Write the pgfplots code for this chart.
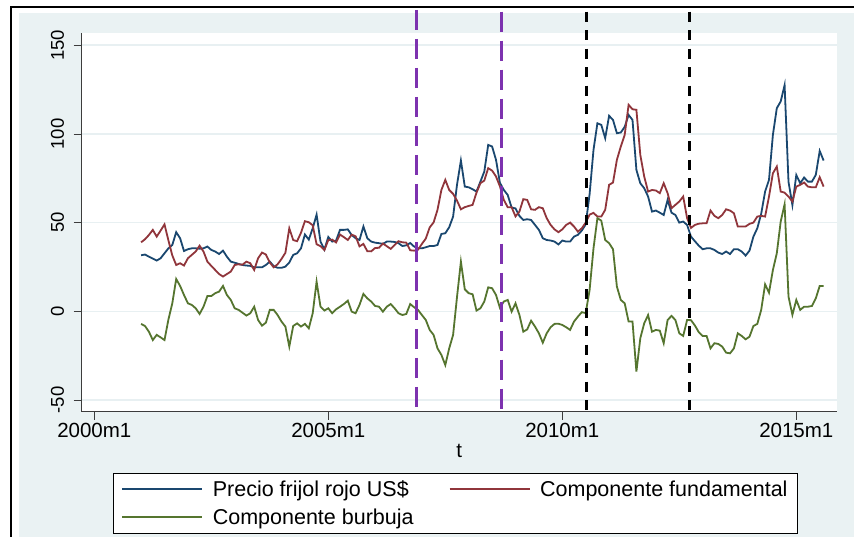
\documentclass[border=0pt]{standalone}
\usepackage{pgfplots}
\pgfplotsset{compat=1.18}
\usepackage{pgfplotstable}
\usepackage{fontspec}
\setmainfont{Liberation Sans}

\definecolor{stnavy}{RGB}{26,71,111}
\definecolor{stmaroon}{RGB}{144,53,59}
\definecolor{stgreen}{RGB}{85,117,47}
\definecolor{stbg}{RGB}{234,242,243}
\definecolor{stgrid}{RGB}{232,240,242}
\definecolor{stpurple}{RGB}{125,50,175}
\definecolor{staxis}{RGB}{60,60,60}

% month index (0 = 2000m1), price, fundamental component, bubble component
\pgfplotstableread{
m p f b
12 31.6 38.9 -7.1
13 32.0 40.6 -8.3
14 30.8 43.0 -11.5
15 29.7 45.9 -16.2
16 28.6 42.1 -13.3
17 29.9 45.5 -14.7
18 32.7 49.0 -16.2
19 35.5 40.0 -4.7
20 37.4 31.5 4.5
21 44.6 26.1 18.2
22 41.2 27.1 14.3
23 34.0 25.8 9.2
24 35.0 29.9 4.5
25 35.5 31.8 3.6
26 35.5 33.7 1.7
27 35.3 37.0 -1.5
28 35.5 33.7 2.6
29 36.5 28.0 8.6
30 34.6 25.6 8.6
31 33.7 23.3 10.2
32 32.3 21.0 11.1
33 34.2 19.6 14.3
34 30.8 21.0 9.2
35 28.0 22.4 6.4
36 27.4 26.1 1.7
37 26.7 26.5 0.8
38 26.1 26.3 -0.8
39 25.8 28.0 -2.4
40 25.6 27.1 -1.1
41 24.8 23.3 2.6
42 24.8 29.9 -4.9
43 24.8 33.1 -8.1
44 26.1 32.0 -6.4
45 28.0 27.5 0.8
46 25.5 24.8 0.8
47 24.5 26.5 -2.1
48 24.5 29.5 -5.8
49 25.2 33.0 -8.6
50 27.5 46.8 -19.9
51 31.8 40.2 -8.3
52 32.7 39.5 -6.8
53 35.5 44.3 -8.6
54 43.3 50.8 -7.1
55 40.4 50.2 -9.6
56 46.8 48.5 -1.1
57 54.5 37.8 16.7
58 39.3 36.7 2.6
59 34.8 34.5 0.4
60 41.9 40.2 1.7
61 39.3 40.4 -1.1
62 39.9 38.8 1.1
63 45.9 43.3 2.6
64 45.9 41.8 4.1
65 46.2 40.2 6.0
66 43.0 43.2 -0.2
67 41.2 42.3 -1.1
68 40.2 36.6 3.6
69 47.8 38.0 9.8
70 41.2 33.9 7.3
71 39.3 33.8 5.5
72 38.7 35.7 3.0
73 38.4 35.8 2.6
74 38.0 38.2 -0.2
75 39.3 36.7 2.6
76 39.3 35.2 4.1
77 39.1 37.4 1.7
78 38.4 39.5 -1.1
79 36.8 38.9 -2.1
80 37.2 38.7 -1.5
81 38.5 34.4 4.1
82 36.5 34.2 2.3
83 35.5 34.7 0.8
84 35.5 38.0 -2.1
85 36.1 41.0 -4.9
86 36.8 47.3 -10.5
87 36.8 50.1 -13.3
88 37.4 57.2 -20.9
89 43.6 68.4 -24.6
90 44.0 74.1 -30.3
91 47.4 68.4 -20.9
92 53.4 66.2 -13.3
93 71.3 62.4 8.0
94 85.0 57.5 28.0
95 70.3 58.7 12.4
96 69.9 59.4 10.2
97 68.8 60.0 9.6
98 67.5 66.9 0.4
99 73.1 72.2 1.7
100 78.8 73.7 5.5
101 93.8 80.7 13.5
102 92.9 79.3 13.0
103 85.4 76.0 9.2
104 72.5 70.5 2.0
105 68.4 62.8 5.5
106 65.6 58.7 6.4
107 58.5 58.7 -0.2
108 58.0 53.5 4.5
109 53.8 56.2 -2.0
110 51.5 63.2 -11.5
111 51.9 62.8 -10.2
112 51.5 57.5 -5.3
113 48.7 57.2 -8.6
114 45.9 58.7 -12.4
115 41.2 58.1 -17.7
116 40.2 52.5 -12.4
117 39.9 48.7 -9.0
118 39.3 46.2 -7.1
119 37.7 44.6 -7.0
120 39.9 46.2 -7.7
121 39.3 48.7 -9.0
122 39.3 50.0 -10.5
123 42.1 47.8 -5.8
124 43.1 44.9 -3.0
125 45.5 46.8 -0.5
126 49.0 50.0 -1.0
127 66.0 54.5 12.0
128 91.0 55.5 35.5
129 106.0 53.4 52.5
130 105.1 53.4 51.1
131 97.6 57.2 40.2
132 110.2 71.3 38.4
133 107.9 72.6 35.0
134 100.4 85.4 13.9
135 100.8 92.9 6.4
136 104.0 99.5 4.5
137 110.7 116.4 -5.8
138 107.9 113.9 -5.8
139 79.7 113.6 -34.0
140 72.2 88.2 -15.2
141 69.4 76.0 -6.8
142 64.7 67.5 -2.1
143 56.2 68.4 -11.5
144 56.8 68.1 -10.5
145 55.6 66.6 -10.9
146 54.3 72.2 -18.0
147 62.8 66.6 -4.9
148 55.6 58.1 -2.6
149 54.3 60.0 -4.9
150 50.0 61.9 -12.4
151 50.6 64.7 -13.9
152 48.7 52.5 -4.9
153 42.1 47.0 -5.0
154 39.5 48.7 -8.0
155 37.0 49.4 -11.8
156 35.0 49.6 -13.9
157 35.5 49.6 -13.9
158 35.5 56.8 -20.9
159 34.6 53.8 -18.0
160 33.1 52.5 -18.4
161 32.3 54.3 -19.9
162 33.7 57.5 -23.3
163 32.3 56.8 -23.7
164 35.0 55.3 -20.9
165 35.0 47.8 -12.4
166 33.7 47.8 -13.9
167 31.4 47.8 -15.8
168 34.2 49.3 -14.3
169 42.1 50.0 -8.3
170 46.8 53.4 -7.1
171 55.0 53.8 0.8
172 67.5 53.4 15.2
173 74.1 64.7 10.5
174 99.5 77.8 23.3
175 114.5 81.6 32.7
176 118.3 67.5 50.6
177 127.5 66.9 60.3
178 73.0 64.7 8.3
179 59.9 61.9 -2.0
180 76.8 70.3 6.4
181 72.2 71.3 0.8
182 75.4 72.6 2.6
183 73.1 70.3 2.6
184 73.1 69.9 3.0
185 76.9 69.9 7.3
186 90.4 75.6 14.3
187 85.0 70.3 14.3
}\datatable

\begin{document}
\begin{tikzpicture}
% graph region
\useasboundingbox (0pt,0pt) rectangle (854pt,537pt);
\fill[white] (0pt,0pt) rectangle (854pt,537pt);
\fill[stbg] (19pt,0pt) rectangle (854pt,523.7pt);
\draw[black, line width=2pt] (11pt,0pt) -- (11pt,530.3pt) -- (854pt,530.3pt);

\begin{axis}[
  at={(81.7pt,125.3pt)}, anchor=south west,
  scale only axis, width=755pt, height=378.7pt,
  xmin=-3.23, xmax=190.36,
  ymin=-56.6, ymax=156.9,
  axis background/.style={fill=white},
  axis x line*=bottom, axis y line*=left,
  axis line style={staxis, line width=0.8pt},
  every tick/.style={staxis, line width=0.8pt},
  tick align=outside, major tick length=8pt,
  xtick={0,60,120,180},
  xticklabels={2000m1,2005m1,2010m1,2015m1},
  ytick={-50,0,50,100,150},
  yticklabels={-50,0,50,100,150},
  xticklabel style={font=\fontsize{20.5}{24}\selectfont},
  yticklabel style={font=\fontsize{18.5}{22}\selectfont, rotate=90, anchor=south, yshift=6pt},
  ymajorgrids, major grid style={stgrid, line width=1.5pt},
  xlabel={t},
  xlabel style={font=\fontsize{20.5}{24}\selectfont},
  clip=false,
  legend columns=2,
  legend cell align=left,
  legend image code/.code={\draw[#1, line width=2pt] (0pt,0pt) -- (80pt,0pt);},
  legend style={
    at={(axis description cs:0.0415,-0.1619)}, anchor=north west,
    draw=black, line width=0.6pt, fill=white,
    font=\fontsize{21.5}{24}\selectfont,
    inner xsep=8pt, inner ysep=5pt,
    row sep=7pt,
    /tikz/every even column/.append style={column sep=33pt},
    /tikz/every odd column/.append style={column sep=7.5pt},
  },
]
\addplot[stnavy, line width=1.8pt] table[x=m, y=p] {\datatable};
\addlegendentry{Precio frijol rojo US\$}
\addplot[stmaroon, line width=1.8pt] table[x=m, y=f] {\datatable};
\addlegendentry{Componente fundamental}
\addplot[stgreen, line width=1.8pt] table[x=m, y=b] {\datatable};
\addlegendentry{Componente burbuja}

% break dates
\addplot[forget plot, stpurple, line width=3pt, dash pattern=on 20pt off 9pt] coordinates {(82.7,170) (82.7,-57)};
\addplot[forget plot, stpurple, line width=3pt, dash pattern=on 20pt off 9pt] coordinates {(104.3,169) (104.3,-57)};
\addplot[forget plot, black, line width=3pt, dash pattern=on 10pt off 8.5pt] coordinates {(126.3,169) (126.3,-57)};
\addplot[forget plot, black, line width=3pt, dash pattern=on 10pt off 8.5pt] coordinates {(152.7,169) (152.7,-57)};
\end{axis}
\end{tikzpicture}
\end{document}
